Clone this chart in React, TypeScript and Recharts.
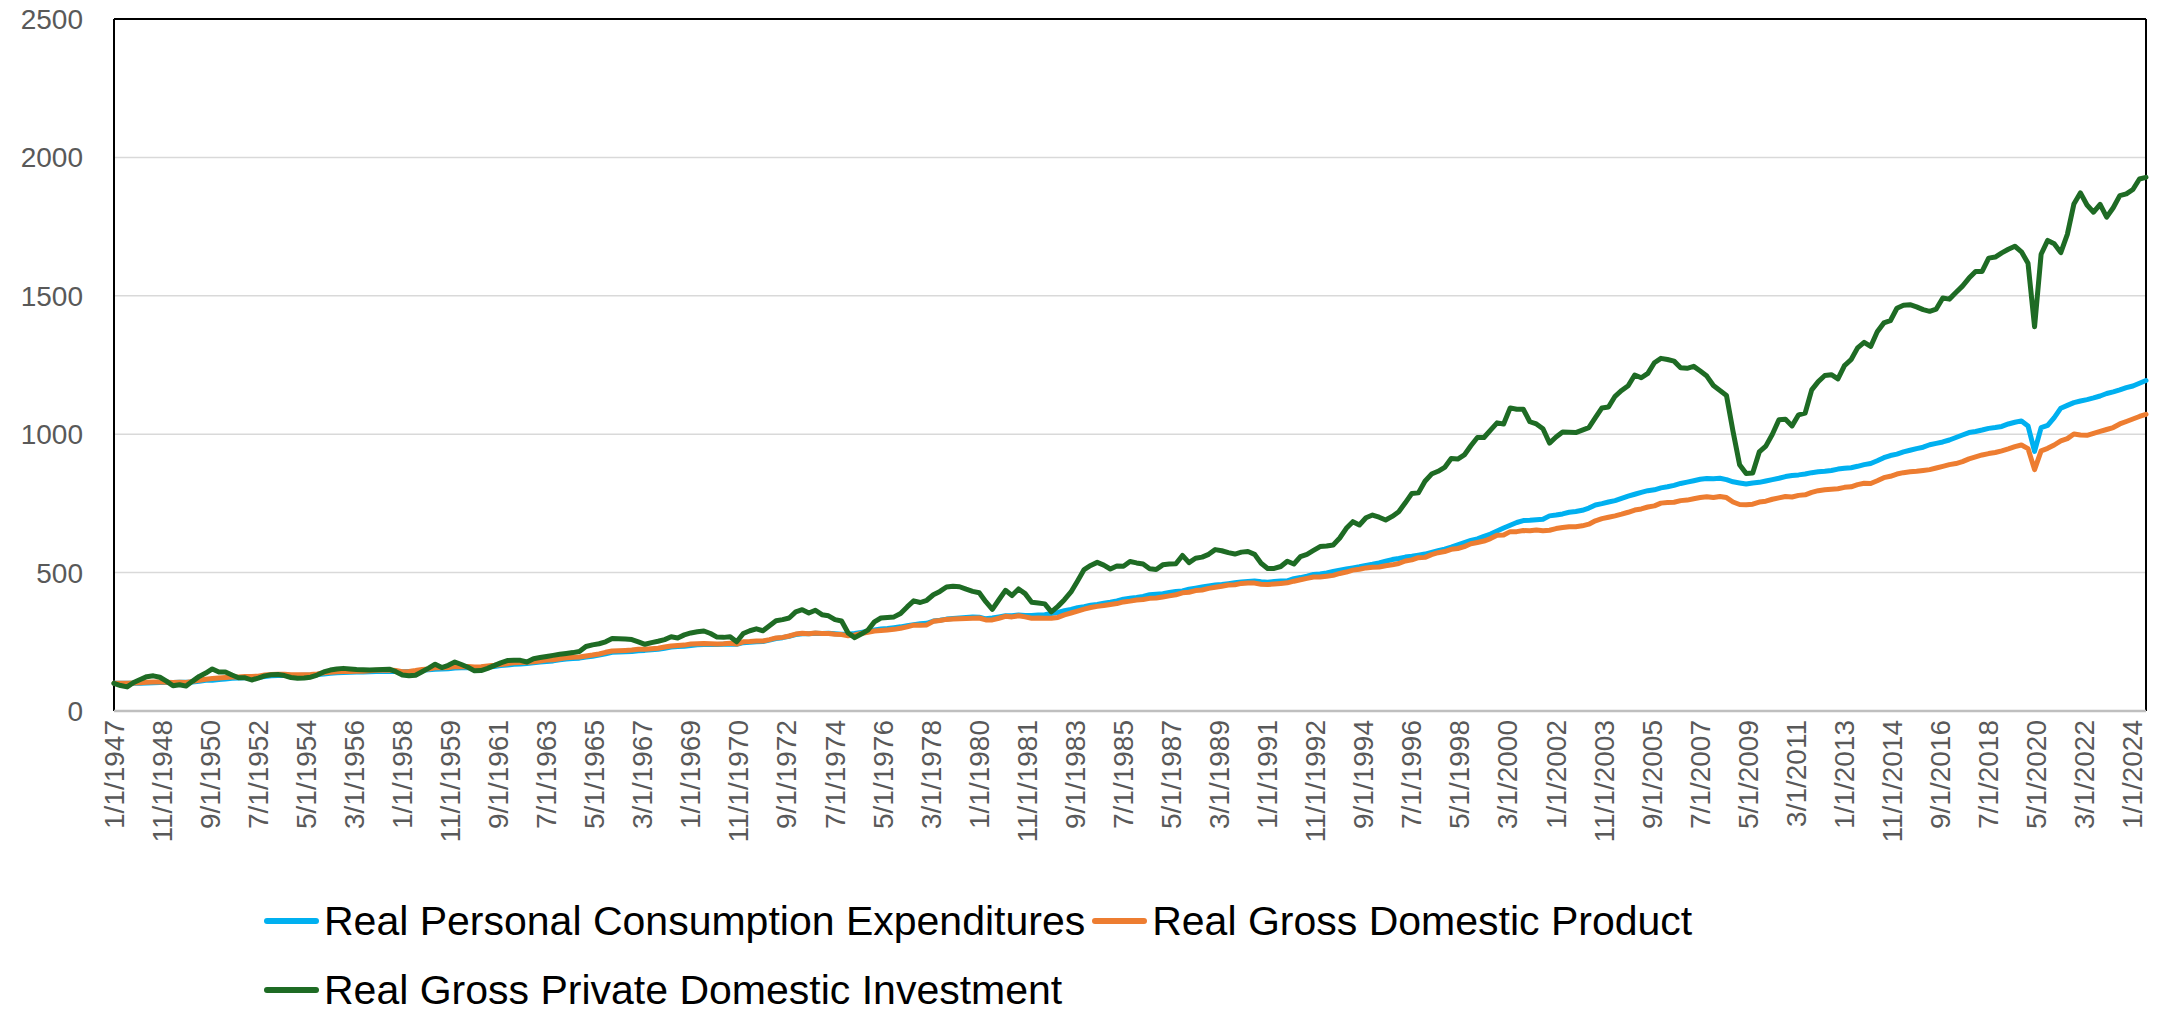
import { LineChart, Line, XAxis, YAxis, CartesianGrid, ReferenceLine } from 'recharts';

// quarterly series, index 1/1/1947 = 100, first quarter is 1/1/1947
const FIRST_YEAR = 1947;

const PCE = [
  100, 100, 100, 100, 100, 101, 102, 103,
  103, 103, 104, 104, 105, 107, 111, 111,
  114, 116, 118, 119, 120, 121, 122, 125,
  127, 128, 129, 128, 128, 129, 130, 132,
  134, 136, 138, 139, 140, 141, 141, 142,
  143, 143, 144, 143, 142, 143, 144, 147,
  149, 151, 152, 153, 155, 156, 156, 156,
  157, 159, 161, 164, 166, 169, 170, 172,
  174, 177, 179, 181, 185, 188, 190, 191,
  195, 198, 202, 207, 212, 213, 214, 215,
  218, 219, 221, 223, 227, 231, 233, 234,
  237, 239, 240, 240, 240, 241, 242, 241,
  247, 248, 250, 251, 256, 262, 265, 270,
  276, 279, 279, 281, 280, 281, 279, 277,
  277, 280, 284, 288, 293, 296, 298, 301,
  304, 308, 312, 315, 317, 325, 328, 332,
  334, 336, 338, 340, 339, 333, 336, 340,
  344, 344, 347, 345, 345, 347, 348, 352,
  356, 362, 367, 373, 377, 382, 385, 389,
  393, 398, 404, 407, 410, 414, 420, 422,
  424, 428, 432, 434, 440, 444, 448, 452,
  455, 457, 460, 463, 466, 468, 470, 467,
  465, 468, 470, 470, 478, 482, 487, 493,
  495, 499, 504, 509, 513, 517, 521, 526,
  530, 535, 541, 547, 551, 556, 559, 563,
  567, 573, 579, 585, 592, 600, 608, 616,
  622, 631, 639, 650, 661, 671, 681, 688,
  689, 691, 693, 705, 708, 712, 718, 721,
  725, 733, 744, 749, 755, 760, 768, 776,
  783, 790, 796, 799, 806, 810, 815, 822,
  827, 832, 837, 840, 839, 841, 836, 828,
  824, 820, 824, 826, 831, 836, 841, 847,
  851, 853, 856, 861, 864, 866, 869, 874,
  877, 879, 884, 890, 894, 904, 915, 923,
  928, 936, 942, 948, 953, 962, 967, 972,
  979, 988, 997, 1006, 1010, 1015, 1021, 1024,
  1028, 1037, 1043, 1048, 1030, 938, 1024, 1032,
  1060, 1094, 1104, 1114, 1120, 1125, 1131, 1138,
  1147, 1153, 1160, 1168, 1174, 1184, 1194,
];

const GDP = [
  100, 100, 100, 101, 102, 104, 105, 105,
  104, 103, 104, 103, 107, 111, 115, 117,
  119, 121, 123, 123, 125, 125, 126, 130,
  132, 133, 133, 131, 131, 131, 132, 134,
  138, 140, 142, 143, 143, 144, 144, 145,
  147, 147, 148, 146, 142, 143, 146, 150,
  152, 156, 156, 157, 161, 160, 161, 159,
  160, 163, 165, 168, 171, 174, 175, 176,
  178, 181, 184, 185, 189, 192, 194, 195,
  199, 202, 206, 212, 217, 218, 219, 220,
  223, 223, 225, 227, 231, 235, 237, 238,
  242, 243, 244, 243, 242, 243, 245, 242,
  250, 251, 253, 253, 258, 264, 266, 271,
  278, 281, 279, 282, 280, 280, 277, 276,
  272, 275, 280, 284, 289, 291, 293, 295,
  299, 304, 310, 310, 311, 324, 327, 331,
  332, 333, 334, 335, 336, 329, 329, 335,
  342, 340, 344, 340, 335, 336, 335, 335,
  338, 347, 354, 361, 368, 374, 378, 381,
  385, 388, 394, 397, 401, 403, 407, 408,
  412, 416, 420, 427, 429, 435, 437, 443,
  447, 451, 455, 456, 461, 462, 462, 458,
  457, 459, 461, 463, 469, 474, 479, 484,
  484, 487, 490, 497, 502, 509, 512, 517,
  519, 520, 525, 528, 533, 542, 546, 554,
  555, 565, 572, 576, 584, 587, 594, 604,
  609, 614, 623, 635, 636, 648, 648, 652,
  651, 654, 651, 653, 659, 663, 666, 666,
  669, 675, 687, 695, 700, 705, 711, 718,
  726, 730, 737, 741, 751, 753, 754, 760,
  762, 767, 771, 774, 771, 775, 771, 755,
  746, 745, 747, 755, 758, 765, 770, 775,
  773, 779, 781, 790, 796, 799, 801, 803,
  808, 810, 818, 823, 822, 832, 843, 848,
  856, 861, 864, 866, 869, 872, 878, 884,
  890, 894, 901, 911, 918, 925, 930, 934,
  940, 947, 955, 961, 948, 872, 940, 949,
  961, 976, 984, 1001, 997, 996, 1003, 1010,
  1017, 1024, 1037, 1046, 1055, 1064, 1072,
];

const GPDI = [
  100, 92, 87, 103, 114, 124, 127, 122,
  108, 91, 95, 90, 108, 125, 137, 152,
  141, 141, 130, 120, 120, 112, 119, 127,
  131, 132, 128, 121, 118, 119, 122, 130,
  141, 148, 152, 154, 152, 150, 149, 148,
  149, 150, 151, 142, 130, 127, 129, 142,
  155, 169, 157, 165, 177, 168, 158, 145,
  146, 154, 164, 174, 182, 183, 183, 177,
  189, 193, 197, 201, 205, 208, 211, 215,
  233, 239, 243, 250, 262, 261, 260, 258,
  250, 241, 247, 252, 258, 268, 264, 275,
  282, 286, 289, 280, 267, 266, 268, 250,
  280, 290, 297, 290, 308, 326, 330, 336,
  358, 366, 354, 364, 348, 344, 330, 325,
  282, 265, 278, 292, 322, 336, 338, 340,
  352, 376, 398, 392, 400, 420, 432, 448,
  451, 449, 440, 432, 427, 395, 367, 402,
  436, 417, 441, 424, 393, 390, 387, 358,
  378, 402, 430, 470, 511, 526, 537, 527,
  513, 524, 523, 540, 535, 531, 514, 511,
  528, 531, 532, 562, 536, 552, 556, 566,
  583, 579, 572, 567, 574, 576, 566, 534,
  515, 515, 522, 541, 531, 558, 566, 580,
  594, 596, 600, 625, 660, 684, 672, 698,
  708, 700, 690, 703, 720, 752, 786, 788,
  830, 856, 866, 880, 912, 910, 925, 958,
  988, 988, 1015, 1041, 1037, 1095, 1090, 1090,
  1045, 1037, 1020, 968, 990, 1008, 1007, 1006,
  1015, 1024, 1060, 1095, 1098, 1137, 1158, 1175,
  1214, 1204, 1220, 1258, 1274, 1270, 1264, 1240,
  1238, 1245, 1228, 1210, 1176, 1158, 1140, 1010,
  890, 858, 860, 936, 957, 1000, 1052, 1054,
  1030, 1070, 1076, 1160, 1190, 1212, 1215, 1200,
  1248, 1269, 1312, 1332, 1317, 1370, 1402, 1410,
  1455, 1466, 1468, 1460, 1450, 1444, 1452, 1492,
  1488, 1512, 1535, 1564, 1588, 1588, 1636, 1640,
  1655, 1668, 1679, 1659, 1618, 1388, 1650, 1700,
  1688, 1656, 1722, 1832, 1872, 1828, 1802, 1830,
  1784, 1818, 1862, 1868, 1884, 1922, 1928,
];

const Y_TICKS = [0, 500, 1000, 1500, 2000, 2500];

const X_TICK_LABELS = [
  '1/1/1947', '11/1/1948', '9/1/1950', '7/1/1952', '5/1/1954', '3/1/1956',
  '1/1/1958', '11/1/1959', '9/1/1961', '7/1/1963', '5/1/1965', '3/1/1967',
  '1/1/1969', '11/1/1970', '9/1/1972', '7/1/1974', '5/1/1976', '3/1/1978',
  '1/1/1980', '11/1/1981', '9/1/1983', '7/1/1985', '5/1/1987', '3/1/1989',
  '1/1/1991', '11/1/1992', '9/1/1994', '7/1/1996', '5/1/1998', '3/1/2000',
  '1/1/2002', '11/1/2003', '9/1/2005', '7/1/2007', '5/1/2009', '3/1/2011',
  '1/1/2013', '11/1/2014', '9/1/2016', '7/1/2018', '5/1/2020', '3/1/2022',
  '1/1/2024',
];

const SERIES = [
  { key: 'pce', name: 'Real Personal Consumption Expenditures', color: '#00B0F0' },
  { key: 'gdp', name: 'Real Gross Domestic Product', color: '#ED7D31' },
  { key: 'gpdi', name: 'Real Gross Private Domestic Investment', color: '#1E6B24' },
];

const FONT = '"Liberation Sans", Arial, sans-serif';

// months since 1/1/1947, used as the date axis position
const monthIndex = (label: string) => {
  const [m, , y] = label.split('/').map(Number);
  return (y - FIRST_YEAR) * 12 + (m - 1);
};

const X_TICKS = X_TICK_LABELS.map(monthIndex);

const data = GDP.map((_, i) => ({
  month: i * 3,
  date: `${(i % 4) * 3 + 1}/1/${FIRST_YEAR + Math.floor(i / 4)}`,
  pce: PCE[i],
  gdp: GDP[i],
  gpdi: GPDI[i],
}));

const LAST_MONTH = data[data.length - 1].month;

const DateTick = ({ x, y, payload }: any) => (
  <text
    x={x}
    y={y}
    transform={`rotate(-90, ${x}, ${y})`}
    textAnchor="end"
    dominantBaseline="central"
    fill="#595959"
    fontSize={28}
    fontFamily={FONT}
  >
    {X_TICK_LABELS[X_TICKS.indexOf(payload.value)]}
  </text>
);

const LegendRow = ({ items, top }: { items: typeof SERIES; top: number }) => (
  <div style={{ position: 'absolute', left: 264, top, display: 'flex', alignItems: 'center', height: 46 }}>
    {items.map((s) => (
      <div key={s.key} style={{ display: 'flex', alignItems: 'center', marginRight: 7 }}>
        <div style={{ width: 55, height: 6, borderRadius: 3, background: s.color, marginRight: 5 }} />
        <span style={{ fontSize: 41, color: '#000', whiteSpace: 'nowrap' }}>{s.name}</span>
      </div>
    ))}
  </div>
);

export default function App() {
  return (
    <div style={{ position: 'absolute', left: 0, top: 0, width: 2167, height: 1012, background: '#fff', fontFamily: FONT }}>
      <LineChart width={2167} height={862} data={data} margin={{ top: 19, right: 21, left: 0, bottom: 0 }}>
        <CartesianGrid vertical={false} stroke="#D9D9D9" strokeWidth={1.5} />
        <XAxis
          dataKey="month"
          type="number"
          domain={[0, LAST_MONTH]}
          ticks={X_TICKS}
          interval={0}
          height={151}
          tickLine={false}
          tickSize={0}
          tickMargin={9}
          axisLine={{ stroke: '#BFBFBF', strokeWidth: 2.5 }}
          tick={<DateTick />}
        />
        <YAxis
          domain={[0, 2500]}
          ticks={Y_TICKS}
          width={114}
          axisLine={false}
          tickLine={false}
          tickSize={0}
          tickMargin={31}
          tick={{ fill: '#595959', fontSize: 28, fontFamily: FONT }}
        />
        <ReferenceLine x={0} stroke="#000" strokeWidth={2} />
        <ReferenceLine x={LAST_MONTH} stroke="#000" strokeWidth={2} />
        <ReferenceLine y={2500} stroke="#000" strokeWidth={2} />
        {SERIES.map((s) => (
          <Line
            key={s.key}
            type="linear"
            dataKey={s.key}
            name={s.name}
            stroke={s.color}
            strokeWidth={5}
            strokeLinejoin="round"
            strokeLinecap="round"
            dot={false}
            activeDot={false}
            isAnimationActive={false}
          />
        ))}
      </LineChart>
      <LegendRow items={SERIES.slice(0, 2)} top={898} />
      <LegendRow items={SERIES.slice(2)} top={967} />
    </div>
  );
}
